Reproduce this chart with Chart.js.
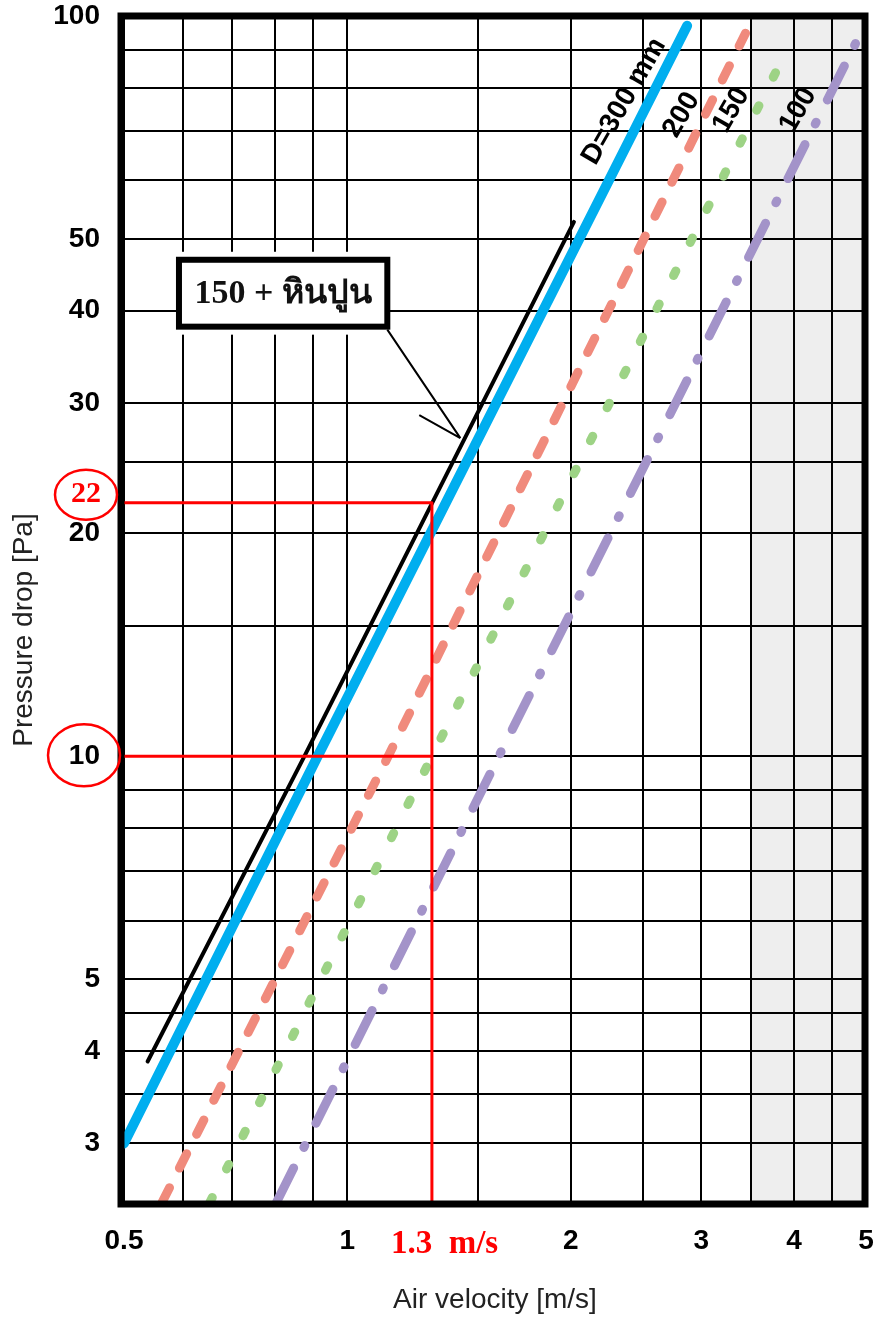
<!DOCTYPE html>
<html>
<head>
<meta charset="utf-8">
<title>Pressure drop vs air velocity</title>
<script src="https://cdn.jsdelivr.net/npm/chart.js@4.4.1/dist/chart.umd.min.js"></script>
<style>
  html, body { margin: 0; padding: 0; background: #fff; }
  #wrap { width: 874px; height: 1318px; }
</style>
</head>
<body>
<div id="wrap"><canvas id="myChart" width="874" height="1318"></canvas></div>
<script>
// values: air velocity [m/s] -> pressure drop [Pa]
const velocity300 = [0.5, 0.912, 2.87];
const pressure300 = [3.0, 10, 97];
const velocity200 = [0.563, 1.135, 3.44];
const pressure200 = [2.5, 10, 94.8];
const velocity150 = [0.653, 1.30, 3.93];
const pressure150 = [2.5, 10, 90.8];
const velocity100 = [0.803, 1.60, 4.88];
const pressure100 = [2.5, 10, 93.3];
const velocityLime = [0.538, 0.875, 2.02];
const pressureLime = [3.87, 10, 52.7];

// reading example
const markVelocity = 1.3;
const markPressures = [22, 10];

// axes
const xGridValues = [0.5, 0.6, 0.7, 0.8, 0.9, 1, 1.5, 2, 2.5, 3, 3.5, 4, 4.5, 5];
const xTickLabels = [0.5, 1, 2, 3, 4, 5];
const yGridValues = [2.5, 3, 3.5, 4, 4.5, 5, 6, 7, 8, 9, 10, 15, 20, 25, 30, 40, 50, 60, 70, 80, 90, 100];
const yTickLabels = [3, 4, 5, 10, 20, 30, 40, 50, 100];
const shadeRange = [3.5, 5];

const lineNames = ["D=300 mm", "200", "150", "100"];

function toPoints(xs, ys) {
  return xs.map((x, i) => ({ x: x, y: ys[i] }));
}

const tickFont = { family: "'Liberation Sans', Arial, sans-serif", size: 28, weight: "bold", lineHeight: 1.1 };

// grey band behind the grid
const shadePlugin = {
  id: "shade",
  beforeDraw(chart) {
    const { ctx, chartArea, scales } = chart;
    const x0 = scales.x.getPixelForValue(shadeRange[0]);
    const x1 = scales.x.getPixelForValue(shadeRange[1]);
    ctx.save();
    ctx.fillStyle = "#eeeeee";
    ctx.fillRect(x0, chartArea.top, x1 - x0, chartArea.bottom - chartArea.top);
    ctx.restore();
  }
};

// labels, callout box, frame
const notesPlugin = {
  id: "notes",
  afterDatasetsDraw(chart) {
    const { ctx, chartArea, scales } = chart;
    const px = (v) => scales.x.getPixelForValue(v);
    const py = (v) => scales.y.getPixelForValue(v);
    ctx.save();

    // rotated line names
    const namePos = [[2.36, 76.7], [2.82, 73.5], [3.29, 74.6], [4.05, 74.6]];
    ctx.fillStyle = "#000";
    ctx.font = "bold 28px 'Liberation Sans', Arial, sans-serif";
    ctx.textAlign = "center";
    ctx.textBaseline = "middle";
    lineNames.forEach((name, i) => {
      ctx.save();
      ctx.translate(px(namePos[i][0]), py(namePos[i][1]));
      ctx.rotate(-60 * Math.PI / 180);
      ctx.fillText(name, 0, 0);
      ctx.restore();
    });

    // callout box "150 + หินปูน"
    const bx0 = px(0.593), bx1 = px(1.132);
    const by0 = py(46.85), by1 = py(38.05);
    ctx.fillStyle = "#fff";
    ctx.fillRect(bx0, by0 - 8, bx1 - bx0, by1 - by0 + 16);
    ctx.strokeStyle = "#000";
    ctx.lineWidth = 6;
    ctx.strokeRect(bx0, by0, bx1 - bx0, by1 - by0);
    ctx.fillStyle = "#111";
    ctx.font = "bold 34px 'Liberation Serif', 'Times New Roman', serif";
    ctx.textBaseline = "alphabetic";
    ctx.fillText("150 + หินปูน", (bx0 + bx1) / 2, (by0 + by1) / 2 + 10);

    // leader arrow
    const tipX = px(1.42), tipY = py(26.9);
    ctx.lineWidth = 2;
    ctx.beginPath();
    ctx.moveTo(bx1, by1 + 3);
    ctx.lineTo(tipX, tipY);
    ctx.moveTo(px(1.25), py(28.9));
    ctx.lineTo(tipX, tipY);
    ctx.stroke();

    // thick frame
    ctx.lineWidth = 7;
    ctx.strokeRect(chartArea.left - 3, chartArea.top, chartArea.right - chartArea.left + 2, chartArea.bottom - chartArea.top + 2);

    // circled values on the y axis
    ctx.strokeStyle = "#ff0000";
    ctx.lineWidth = 2.5;
    ctx.beginPath();
    ctx.ellipse(chartArea.left - 38, py(markPressures[0]) - 8, 31, 25, 0, 0, Math.PI * 2);
    ctx.stroke();
    ctx.beginPath();
    ctx.ellipse(chartArea.left - 40, py(markPressures[1]) - 1, 36, 31, 0, 0, Math.PI * 2);
    ctx.stroke();
    ctx.fillStyle = "#ff0000";
    ctx.font = "bold 30px 'Liberation Serif', 'Times New Roman', serif";
    ctx.textAlign = "center";
    ctx.textBaseline = "middle";
    ctx.fillText(String(markPressures[0]), chartArea.left - 38, py(markPressures[0]) - 9);

    // red velocity label
    ctx.font = "bold 33px 'Liberation Serif', 'Times New Roman', serif";
    ctx.textAlign = "left";
    ctx.fillText(markVelocity + "  m/s", px(markVelocity) - 41, chartArea.bottom + 42);

    // y title
    ctx.fillStyle = "#222";
    ctx.font = "28px 'Liberation Sans', Arial, sans-serif";
    ctx.textAlign = "center";
    ctx.translate(24, (chartArea.top + chartArea.bottom) / 2 + 21);
    ctx.rotate(-Math.PI / 2);
    ctx.fillText("Pressure drop [Pa]", 0, 0);

    ctx.restore();
  }
};

function createChart() {
  const canvas = document.getElementById("myChart");
  const guide22 = [
    { x: xGridValues[0], y: markPressures[0] },
    { x: markVelocity, y: markPressures[0] },
    { x: markVelocity, y: yGridValues[0] }
  ];
  const guide10 = [
    { x: xGridValues[0], y: markPressures[1] },
    { x: markVelocity, y: markPressures[1] }
  ];
  const base = { fill: false, pointRadius: 0, tension: 0, borderCapStyle: "round", borderJoinStyle: "round" };

  new Chart(canvas, {
    type: "line",
    data: {
      datasets: [
        Object.assign({}, base, { data: guide22, borderColor: "#ff0000", borderWidth: 3, borderCapStyle: "butt" }),
        Object.assign({}, base, { data: guide10, borderColor: "#ff0000", borderWidth: 3, borderCapStyle: "butt" }),
        Object.assign({}, base, { data: toPoints(velocityLime, pressureLime), borderColor: "#000", borderWidth: 4 }),
        Object.assign({}, base, { data: toPoints(velocity300, pressure300), borderColor: "#00aeef", borderWidth: 10 }),
        Object.assign({}, base, { data: toPoints(velocity200, pressure200), borderColor: "#f08a7c", borderWidth: 9, borderDash: [16, 22] }),
        Object.assign({}, base, { data: toPoints(velocity150, pressure150), borderColor: "#9dd385", borderWidth: 9, borderDash: [5, 32] }),
        Object.assign({}, base, { data: toPoints(velocity100, pressure100), borderColor: "#a393c9", borderWidth: 9, borderDash: [38, 23, 2, 25] })
      ]
    },
    options: {
      responsive: false,
      animation: false,
      layout: { padding: { left: 0, top: 16, right: 8, bottom: 0 } },
      plugins: { legend: { display: false }, tooltip: { enabled: false } },
      scales: {
        x: {
          type: "logarithmic",
          min: 0.5,
          max: 5,
          afterBuildTicks: (axis) => { axis.ticks = xGridValues.map((v) => ({ value: v })); },
          afterFit: (axis) => { axis.height = 116; },
          grid: { color: "#000", lineWidth: 2, drawTicks: true, tickLength: 24, tickColor: "rgba(0,0,0,0)" },
          border: { display: false },
          ticks: {
            autoSkip: false,
            maxRotation: 0,
            padding: 0,
            color: "#000",
            font: tickFont,
            callback: (value) => (xTickLabels.includes(value) ? String(value) : "")
          },
          title: {
            display: true,
            text: "Air velocity [m/s]",
            color: "#222",
            font: { family: "'Liberation Sans', Arial, sans-serif", size: 28 },
            padding: { top: 0, bottom: 1 }
          }
        },
        y: {
          type: "logarithmic",
          min: 2.5,
          max: 100,
          afterBuildTicks: (axis) => { axis.ticks = yGridValues.map((v) => ({ value: v })); },
          afterFit: (axis) => { axis.width = 124; },
          grid: { color: "#000", lineWidth: 2, drawTicks: true, tickLength: 24, tickColor: "rgba(0,0,0,0)" },
          border: { display: false },
          ticks: {
            autoSkip: false,
            padding: 0,
            color: "#000",
            font: tickFont,
            callback: (value) => (yTickLabels.includes(value) ? String(value) : "")
          }
        }
      }
    },
    plugins: [shadePlugin, notesPlugin]
  });
}

window.addEventListener("load", function () {
  createChart();
});
</script>
</body>
</html>
